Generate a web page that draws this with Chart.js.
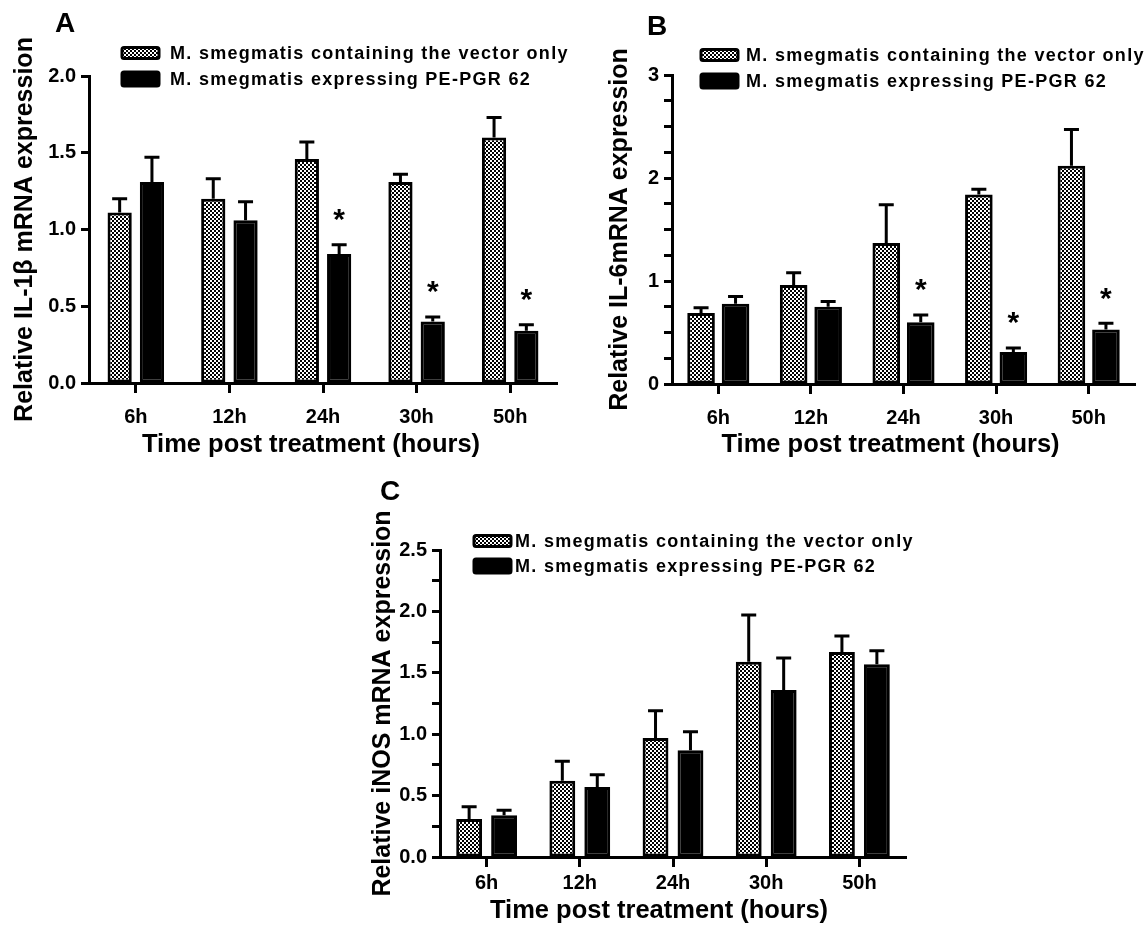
<!DOCTYPE html>
<html>
<head>
<meta charset="utf-8">
<script src="https://cdn.jsdelivr.net/npm/chart.js@4.4.1/dist/chart.umd.min.js"></script>
<style>
    body { margin: 0; background: #fff; overflow: hidden; }
    canvas { position: absolute; }
</style>
</head>
<body>
<canvas id="chartA" width="580" height="470" style="left:0px;top:0px"></canvas>
<canvas id="chartB" width="565" height="470" style="left:580px;top:0px"></canvas>
<canvas id="chartC" width="570" height="462" style="left:360px;top:470px"></canvas>
<script>
// data (mean + upper SEM)
const timeLabels = ['6h', '12h', '24h', '30h', '50h'];
const seriesNames = ['M. smegmatis containing the vector only', 'M. smegmatis expressing PE-PGR 62'];
const xTitle = 'Time post treatment (hours)';

const il1bVector = [1.11, 1.20, 1.46, 1.31, 1.60];
const il1bVectorErr = [0.09, 0.13, 0.11, 0.05, 0.13];
const il1bPE = [1.31, 1.06, 0.84, 0.40, 0.34];
const il1bPEErr = [0.16, 0.12, 0.06, 0.03, 0.04];
const il1bSig = [false, false, true, true, true];

const il6Vector = [0.69, 0.96, 1.37, 1.84, 2.12];
const il6VectorErr = [0.05, 0.12, 0.37, 0.05, 0.35];
const il6PE = [0.78, 0.75, 0.60, 0.31, 0.53];
const il6PEErr = [0.07, 0.05, 0.07, 0.04, 0.06];
const il6Sig = [false, false, true, true, true];

const inosVector = [0.31, 0.62, 0.97, 1.59, 1.67];
const inosVectorErr = [0.10, 0.16, 0.22, 0.38, 0.13];
const inosPE = [0.34, 0.57, 0.87, 1.36, 1.57];
const inosPEErr = [0.04, 0.10, 0.15, 0.26, 0.11];
const inosSig = [false, false, false, false, false];

const FONT = '"Liberation Sans", Arial, sans-serif';
Chart.defaults.font.family = FONT;
Chart.defaults.color = '#000';

// small checkerboard used for the vector-only bars
function makeChecker() {
    let c = document.createElement('canvas');
    c.width = 4;
    c.height = 4;
    let g = c.getContext('2d');
    g.fillStyle = '#fff';
    g.fillRect(0, 0, 4, 4);
    g.fillStyle = '#000';
    g.fillRect(0, 0, 2, 2);
    g.fillRect(2, 2, 2, 2);
    return g.createPattern(c, 'repeat');
}
const checker = makeChecker();

// error bars, asterisks, legend, x title and panel letter
const decorPlugin = {
    id: 'decor',
    afterDatasetsDraw(chart) {
        const ctx = chart.ctx;
        const yScale = chart.scales.y;
        ctx.save();
        ctx.strokeStyle = '#000';
        ctx.lineWidth = 3;
        chart.data.datasets.forEach((ds, i) => {
            chart.getDatasetMeta(i).data.forEach((bar, j) => {
                let top = yScale.getPixelForValue(ds.data[j] + ds.errors[j]);
                ctx.beginPath();
                ctx.moveTo(bar.x, bar.y);
                ctx.lineTo(bar.x, top);
                ctx.moveTo(bar.x - 7.5, top);
                ctx.lineTo(bar.x + 7.5, top);
                ctx.stroke();
                if (ds.sig && ds.sig[j]) {
                    ctx.fillStyle = '#000';
                    ctx.font = 'bold 30px ' + FONT;
                    ctx.textAlign = 'center';
                    ctx.textBaseline = 'alphabetic';
                    // star centre about 33px above the error cap
                    ctx.fillText('*', bar.x, top - 33 + 17.5);
                }
            });
        });
        ctx.restore();
    },
    afterDraw(chart) {
        const ctx = chart.ctx;
        const o = chart.options.plugins.decor;
        const area = chart.chartArea;
        ctx.save();
        ctx.fillStyle = '#000';
        ctx.font = 'bold 28px ' + FONT;
        ctx.textAlign = 'center';
        ctx.textBaseline = 'middle';
        ctx.fillText(o.letter, o.letterX, o.letterY);

        ctx.font = 'bold 25.5px ' + FONT;
        ctx.fillText(xTitle, (area.left + area.right) / 2 + o.titleShift, o.titleY);

        ctx.font = 'bold 18px ' + FONT;
        ctx.textAlign = 'left';
        ctx.letterSpacing = '1.3px';
        chart.data.datasets.forEach((ds, i) => {
            let y = o.legendY[i];
            let h = i === 0 ? 11 : 14;
            ctx.beginPath();
            ctx.roundRect(o.boxX, y - h / 2, 37, h, 2);
            ctx.fillStyle = ds.backgroundColor;
            ctx.fill();
            ctx.lineWidth = 3;
            ctx.strokeStyle = '#000';
            ctx.stroke();
            ctx.fillStyle = '#000';
            ctx.fillText(ds.label, o.textX, y + 1);
        });
        ctx.restore();
    }
};

function buildPanel(p) {
    const chart = document.getElementById(p.id);
    let barChart = new Chart(chart, {
        type: 'bar',
        data: {
            labels: timeLabels,
            datasets: [{
                label: seriesNames[0],
                data: p.vector,
                errors: p.vectorErr,
                backgroundColor: checker,
                borderColor: '#000',
                borderWidth: 3,
                borderSkipped: false,
                categoryPercentage: p.cat,
                barPercentage: p.bar
            }, {
                label: seriesNames[1],
                data: p.pe,
                errors: p.peErr,
                sig: p.sig,
                backgroundColor: '#000',
                borderColor: '#000',
                borderWidth: 3,
                borderSkipped: false,
                categoryPercentage: p.cat,
                barPercentage: p.bar
            }]
        },
        options: {
            responsive: false,
            animation: false,
            layout: { padding: p.padding },
            plugins: {
                legend: { display: false },
                tooltip: { enabled: false },
                decor: p.decor
            },
            scales: {
                x: {
                    grid: { offset: false, drawOnChartArea: false, tickLength: 10, tickWidth: 3, tickColor: '#000' },
                    border: { color: '#000', width: 3 },
                    ticks: { font: { size: 20, weight: 'bold' }, padding: p.xPad },
                    afterFit: s => { s.height = p.xH; }
                },
                y: {
                    min: 0,
                    max: p.yMax,
                    grid: { drawOnChartArea: false, tickLength: 8, tickWidth: 3, tickColor: '#000' },
                    border: { color: '#000', width: 3 },
                    ticks: { stepSize: p.step, maxTicksLimit: 100, autoSkip: false, font: { size: 20, weight: 'bold' }, padding: 5, callback: p.tickLabel },
                    title: { display: true, text: p.yTitle, font: { size: 25, weight: 'bold' }, padding: { top: 4, bottom: 4 } },
                    afterFit: s => { s.width = p.yW; }
                }
            }
        },
        plugins: [decorPlugin]
    });
}

buildPanel({
    id: 'chartA', vector: il1bVector, vectorErr: il1bVectorErr, pe: il1bPE, peErr: il1bPEErr, sig: il1bSig,
    yTitle: 'Relative IL-1β mRNA expression', yMax: 2, step: 0.5,
    tickLabel: v => v.toFixed(1),
    cat: 0.69, bar: 0.75, xPad: 12,
    padding: { left: 6, top: 76, right: 23, bottom: 6.6 }, yW: 83, xH: 80.4,
    decor: { letter: 'A', letterX: 65, letterY: 24, boxX: 122, textX: 170, legendY: [53, 79], titleY: 445, titleShift: -12 }
});

buildPanel({
    id: 'chartB', vector: il6Vector, vectorErr: il6VectorErr, pe: il6PE, peErr: il6PEErr, sig: il6Sig,
    yTitle: 'Relative IL-6mRNA expression', yMax: 3, step: 0.25,
    tickLabel: v => Number.isInteger(v) ? v : '',
    cat: 0.745, bar: 0.8, xPad: 12,
    padding: { left: 21, top: 75, right: 10, bottom: 6.6 }, yW: 71, xH: 79.4,
    decor: { letter: 'B', letterX: 77, letterY: 27, boxX: 121, textX: 166, legendY: [55, 81], titleY: 445, titleShift: -13 }
});

buildPanel({
    id: 'chartC', vector: inosVector, vectorErr: inosVectorErr, pe: inosPE, peErr: inosPEErr, sig: inosSig,
    yTitle: 'Relative iNOS mRNA expression', yMax: 2.5, step: 0.25,
    tickLabel: v => Math.round(v * 4) % 2 === 0 ? v.toFixed(1) : '',
    cat: 0.75, bar: 0.74, xPad: 4,
    padding: { left: 4, top: 80, right: 24, bottom: 1.6 }, yW: 76, xH: 73.4,
    decor: { letter: 'C', letterX: 30, letterY: 22, boxX: 114, textX: 155, legendY: [71, 96], titleY: 441, titleShift: -14 }
});
</script>
</body>
</html>
